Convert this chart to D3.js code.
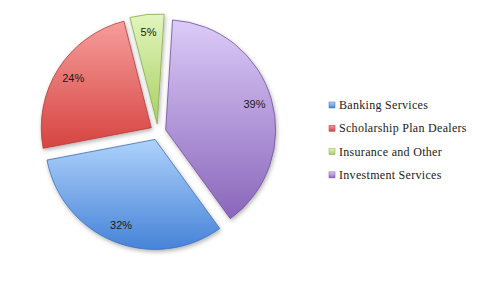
<!DOCTYPE html>
<html>
<head>
<meta charset="utf-8">
<script src="https://cdn.jsdelivr.net/npm/d3@7"></script>
<style>
  body { margin: 0; background: #fff; }
  svg { display: block; }
</style>
</head>
<body>
<svg id="chart" width="481" height="281"></svg>
<script>
// chart data
const categories = ["Banking Services", "Scholarship Plan Dealers", "Insurance and Other", "Investment Services"];
const shares = [32, 24, 5, 39];
const pctLabels = ["32%", "24%", "5%", "39%"];

const topColors = ["#aed2fb", "#f69d9b", "#e2f6bd", "#dccbf8"];
const bottomColors = ["#4683d8", "#d64441", "#a9cf62", "#8a66bb"];
const edgeColors = ["#3d6fb5", "#b33a37", "#89a84e", "#6f5199"];

const svg = d3.select("#chart");
const cx = 158, cy = 132, radius = 110, explode = 8;
const startDeg = 144;

const defs = svg.append("defs");
categories.forEach((c, i) => {
  const g = defs.append("linearGradient")
    .attr("id", "grad" + i)
    .attr("x1", 0).attr("y1", 0).attr("x2", 0).attr("y2", 1);
  g.append("stop").attr("offset", "0%").attr("stop-color", topColors[i]);
  g.append("stop").attr("offset", "100%").attr("stop-color", bottomColors[i]);
});
const shadow = defs.append("filter").attr("id", "shadow")
  .attr("x", "-20%").attr("y", "-20%").attr("width", "140%").attr("height", "140%");
shadow.append("feDropShadow")
  .attr("dx", 1).attr("dy", 2).attr("stdDeviation", 2)
  .attr("flood-color", "#000").attr("flood-opacity", 0.3);

const a0 = startDeg * Math.PI / 180;
const pie = d3.pie().sort(null).value(d => d).startAngle(a0).endAngle(a0 + 2 * Math.PI);
const arcs = pie(shares);

const arc = d3.arc().innerRadius(0).outerRadius(radius);
const labelArc = d3.arc().innerRadius(radius * 0.84).outerRadius(radius * 0.84);

const slices = svg.append("g")
  .attr("transform", `translate(${cx},${cy})`)
  .selectAll("g.slice")
  .data(arcs)
  .join("g")
  .attr("class", "slice")
  .attr("transform", d => {
    const mid = (d.startAngle + d.endAngle) / 2;
    return `translate(${explode * Math.sin(mid)},${-explode * Math.cos(mid)})`;
  });

slices.append("path")
  .attr("d", arc)
  .attr("fill", (d, i) => `url(#grad${i})`)
  .attr("stroke", (d, i) => edgeColors[i])
  .attr("stroke-width", 0.8)
  .attr("stroke-linejoin", "round")
  .attr("filter", "url(#shadow)");

slices.append("text")
  .attr("transform", d => `translate(${labelArc.centroid(d)})`)
  .attr("text-anchor", "middle")
  .attr("dominant-baseline", "central")
  .attr("font-family", "'Liberation Sans', Arial, sans-serif")
  .attr("font-size", 11)
  .attr("fill", "#1a1a1a")
  .text((d, i) => pctLabels[i]);

// legend
const legend = svg.append("g").attr("transform", "translate(329,105)");
const item = legend.selectAll("g")
  .data(categories)
  .join("g")
  .attr("transform", (d, i) => `translate(0,${i * 23.3})`);

item.append("rect")
  .attr("x", 0).attr("y", -3)
  .attr("width", 6).attr("height", 6)
  .attr("fill", (d, i) => `url(#grad${i})`)
  .attr("stroke", (d, i) => edgeColors[i])
  .attr("stroke-width", 0.5);

item.append("text")
  .attr("x", 10)
  .attr("y", 0)
  .attr("dominant-baseline", "central")
  .attr("font-family", "'Liberation Serif', 'Times New Roman', serif")
  .attr("font-size", 12)
  .attr("letter-spacing", 0.3)
  .attr("fill", "#1a1a1a")
  .text(d => d);
</script>
</body>
</html>
